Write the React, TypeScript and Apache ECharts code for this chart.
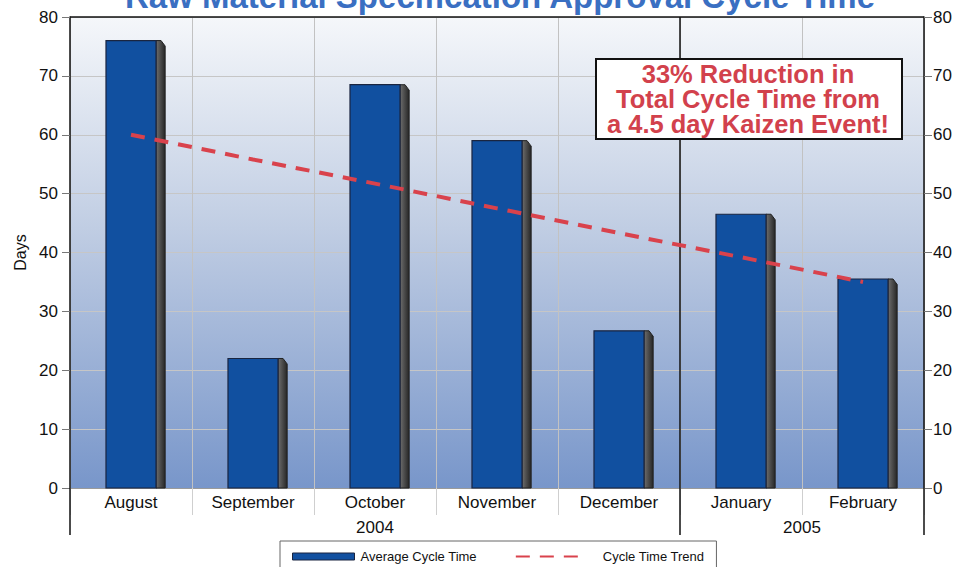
import React, { useEffect, useRef } from "react";
import * as echarts from "echarts";

const FONT = '"Liberation Sans", Arial, Helvetica, sans-serif';

const months = ["August", "September", "October", "November", "December", "January", "February"];
const cycleTime = [76, 22, 68.5, 59, 26.7, 46.5, 35.5];
const trend = [60, 55.8, 51.7, 47.5, 43.3, 39.2, 35];
const years = ["2004", "2005"];
const yearStart = [0, 5];
const yearEnd = [4, 6];
const yMin = 0;
const yMax = 80;
const yStep = 10;

const titleText = "Raw Material Specification Approval Cycle Time";
const noteLines = ["33% Reduction in", "Total Cycle Time from", "a 4.5 day Kaizen Event!"];

export default function App() {
  const ref = useRef<HTMLDivElement>(null);
  useEffect(() => {
    const chart = echarts.init(ref.current!, null, { renderer: "svg" });
    const barData = cycleTime.map((v, i) => [i, v]);
    const option: any = {
      animation: false,
      textStyle: { fontFamily: FONT },
      grid: {
        left: 70,
        right: 44,
        top: 17,
        bottom: 79,
        show: true,
        borderWidth: 0,
        backgroundColor: new echarts.graphic.LinearGradient(0, 0, 0, 1, [
          { offset: 0, color: "#f5f7fa" },
          { offset: 0.45, color: "#c0cde3" },
          { offset: 1, color: "#7896ca" },
        ]),
      },
      legend: {
        left: 280,
        top: 541,
        padding: [9, 12, 9, 12],
        borderColor: "#666",
        borderWidth: 1,
        backgroundColor: "#ffffff",
        itemGap: 38,
        itemWidth: 62,
        itemHeight: 7,
        textStyle: { fontSize: 13, color: "#111", fontFamily: FONT },
        data: [
          {
            name: "Average Cycle Time",
            icon: "rect",
            itemStyle: { color: "#1150a0", borderColor: "#1a2540", borderWidth: 1 },
            textStyle: { padding: [0, 0, 0, 1] },
          },
          {
            name: "Cycle Time Trend",
            itemStyle: { opacity: 0 },
            textStyle: { padding: [0, 0, 0, 20] },
          },
        ],
      },
      xAxis: {
        type: "category",
        data: months,
        boundaryGap: true,
        axisLine: { show: true, lineStyle: { color: "#9a9a9a", width: 1 } },
        axisTick: { show: true, length: 27, lineStyle: { color: "#cfcfcf" } },
        axisLabel: { fontSize: 17, color: "#111", margin: 6, fontFamily: FONT },
        splitLine: { show: true, lineStyle: { color: "#c2c2c2", width: 1 } },
      },
      yAxis: [
        {
          type: "value",
          min: yMin,
          max: yMax,
          interval: yStep,
          name: "Days",
          nameLocation: "middle",
          nameGap: 42,
          nameTextStyle: { fontSize: 16, color: "#111", fontFamily: FONT },
          axisLine: { show: true, lineStyle: { color: "#111", width: 1.5 } },
          axisTick: { show: true, length: 8, lineStyle: { color: "#777" } },
          axisLabel: { fontSize: 17, color: "#111", margin: 12, fontFamily: FONT },
          splitLine: { show: true, lineStyle: { color: "#c6c6c6", width: 1 } },
        },
        {
          type: "value",
          position: "right",
          min: yMin,
          max: yMax,
          interval: yStep,
          axisLine: { show: true, lineStyle: { color: "#111", width: 1.5 } },
          axisTick: { show: true, length: 8, lineStyle: { color: "#777" } },
          axisLabel: { fontSize: 17, color: "#111", margin: 9, fontFamily: FONT },
          splitLine: { show: false },
        },
      ],
      series: [
        {
          name: "Average Cycle Time",
          type: "custom",
          itemStyle: { color: "#1150a0" },
          encode: { x: 0, y: 1 },
          data: barData,
          z: 3,
          renderItem: (params: any, api: any) => {
            const idx = api.value(0);
            const val = api.value(1);
            const top = api.coord([idx, val]);
            const base = api.coord([idx, 0]);
            const bw = api.size([1, 0])[0];
            const fw = bw * 0.41;
            const d = bw * 0.075;
            const fx = top[0] - fw / 2;
            const rx = fx + fw;
            return {
              type: "group",
              children: [
                {
                  type: "polygon",
                  shape: {
                    points: [
                      [rx, top[1]],
                      [rx + d * 0.55, top[1]],
                      [rx + d, top[1] + d * 0.6],
                      [rx + d, base[1]],
                      [rx, base[1]],
                    ],
                  },
                  style: {
                    fill: new echarts.graphic.LinearGradient(0, 0, 1, 0, [
                      { offset: 0, color: "#6e6e6e" },
                      { offset: 0.5, color: "#4a4a4a" },
                      { offset: 1, color: "#262626" },
                    ]),
                    stroke: "#222",
                    lineWidth: 1,
                  },
                },
                {
                  type: "rect",
                  shape: { x: fx, y: top[1], width: fw, height: base[1] - top[1] },
                  style: { fill: "#1150a0", stroke: "#1a2540", lineWidth: 1.2 },
                },
              ],
            };
          },
        },
        {
          name: "Cycle Time Trend",
          type: "line",
          data: trend,
          symbol: "none",
          z: 5,
          itemStyle: { color: "#d9424c" },
          lineStyle: { color: "#d9424c", width: 4, type: [14, 10] },
        },
      ],
      graphic: [
        {
          type: "text",
          z: 20,
          style: {
            text: titleText,
            x: 500,
            y: 13,
            textAlign: "center",
            textVerticalAlign: "bottom",
            fontSize: 33,
            fontWeight: "bold",
            fontFamily: FONT,
            fill: "#3a6fc2",
          },
        },
        {
          type: "rect",
          z: 20,
          shape: { x: 596, y: 59, width: 306, height: 80 },
          style: { fill: "#ffffff", stroke: "#111", lineWidth: 2 },
        },
        ...noteLines.map((t, i) => ({
          type: "text",
          z: 21,
          style: {
            text: t,
            x: 748,
            y: 74 + i * 25,
            textAlign: "center",
            textVerticalAlign: "middle",
            fontSize: 25.5,
            fontWeight: "bold",
            fontFamily: FONT,
            fill: "#d2414c",
          },
        })),
      ],
    };
    chart.setOption(option);

    const c0 = chart.convertToPixel({ xAxisIndex: 0 }, 0) as number;
    const c1 = chart.convertToPixel({ xAxisIndex: 0 }, 1) as number;
    const bw = c1 - c0;
    const cx = (i: number) => c0 + i * bw;
    const L = cx(0) - bw / 2;
    const R = cx(months.length - 1) + bw / 2;
    const T = chart.convertToPixel({ yAxisIndex: 0 }, yMax) as number;
    const B = chart.convertToPixel({ yAxisIndex: 0 }, yMin) as number;
    const ext = 47;
    const extra: any[] = [
      {
        type: "line",
        z: 2,
        shape: { x1: L, y1: T, x2: R, y2: T },
        style: { stroke: "#111", lineWidth: 1.5 },
      },
      {
        type: "line",
        z: 2,
        shape: { x1: L, y1: B, x2: L, y2: B + ext },
        style: { stroke: "#111", lineWidth: 1.5 },
      },
      {
        type: "line",
        z: 2,
        shape: { x1: R, y1: B, x2: R, y2: B + ext },
        style: { stroke: "#111", lineWidth: 1.5 },
      },
    ];
    yearStart.forEach((s, k) => {
      const e = yearEnd[k];
      const left = cx(s) - bw / 2;
      if (s > 0) {
        extra.push({
          type: "line",
          z: 2,
          shape: { x1: left, y1: T, x2: left, y2: B + ext },
          style: { stroke: "#111", lineWidth: 1.5 },
        });
      }
      extra.push({
        type: "text",
        z: 2,
        style: {
          text: years[k],
          x: (cx(s) + cx(e)) / 2,
          y: B + 39,
          textAlign: "center",
          textVerticalAlign: "middle",
          fontSize: 17,
          fontFamily: FONT,
          fill: "#111",
        },
      });
    });
    chart.setOption({ graphic: [...option.graphic, ...extra] });

    return () => chart.dispose();
  }, []);
  return (
    <div
      ref={ref}
      style={{ position: "absolute", left: 0, top: 0, width: 968, height: 567 }}
    />
  );
}
